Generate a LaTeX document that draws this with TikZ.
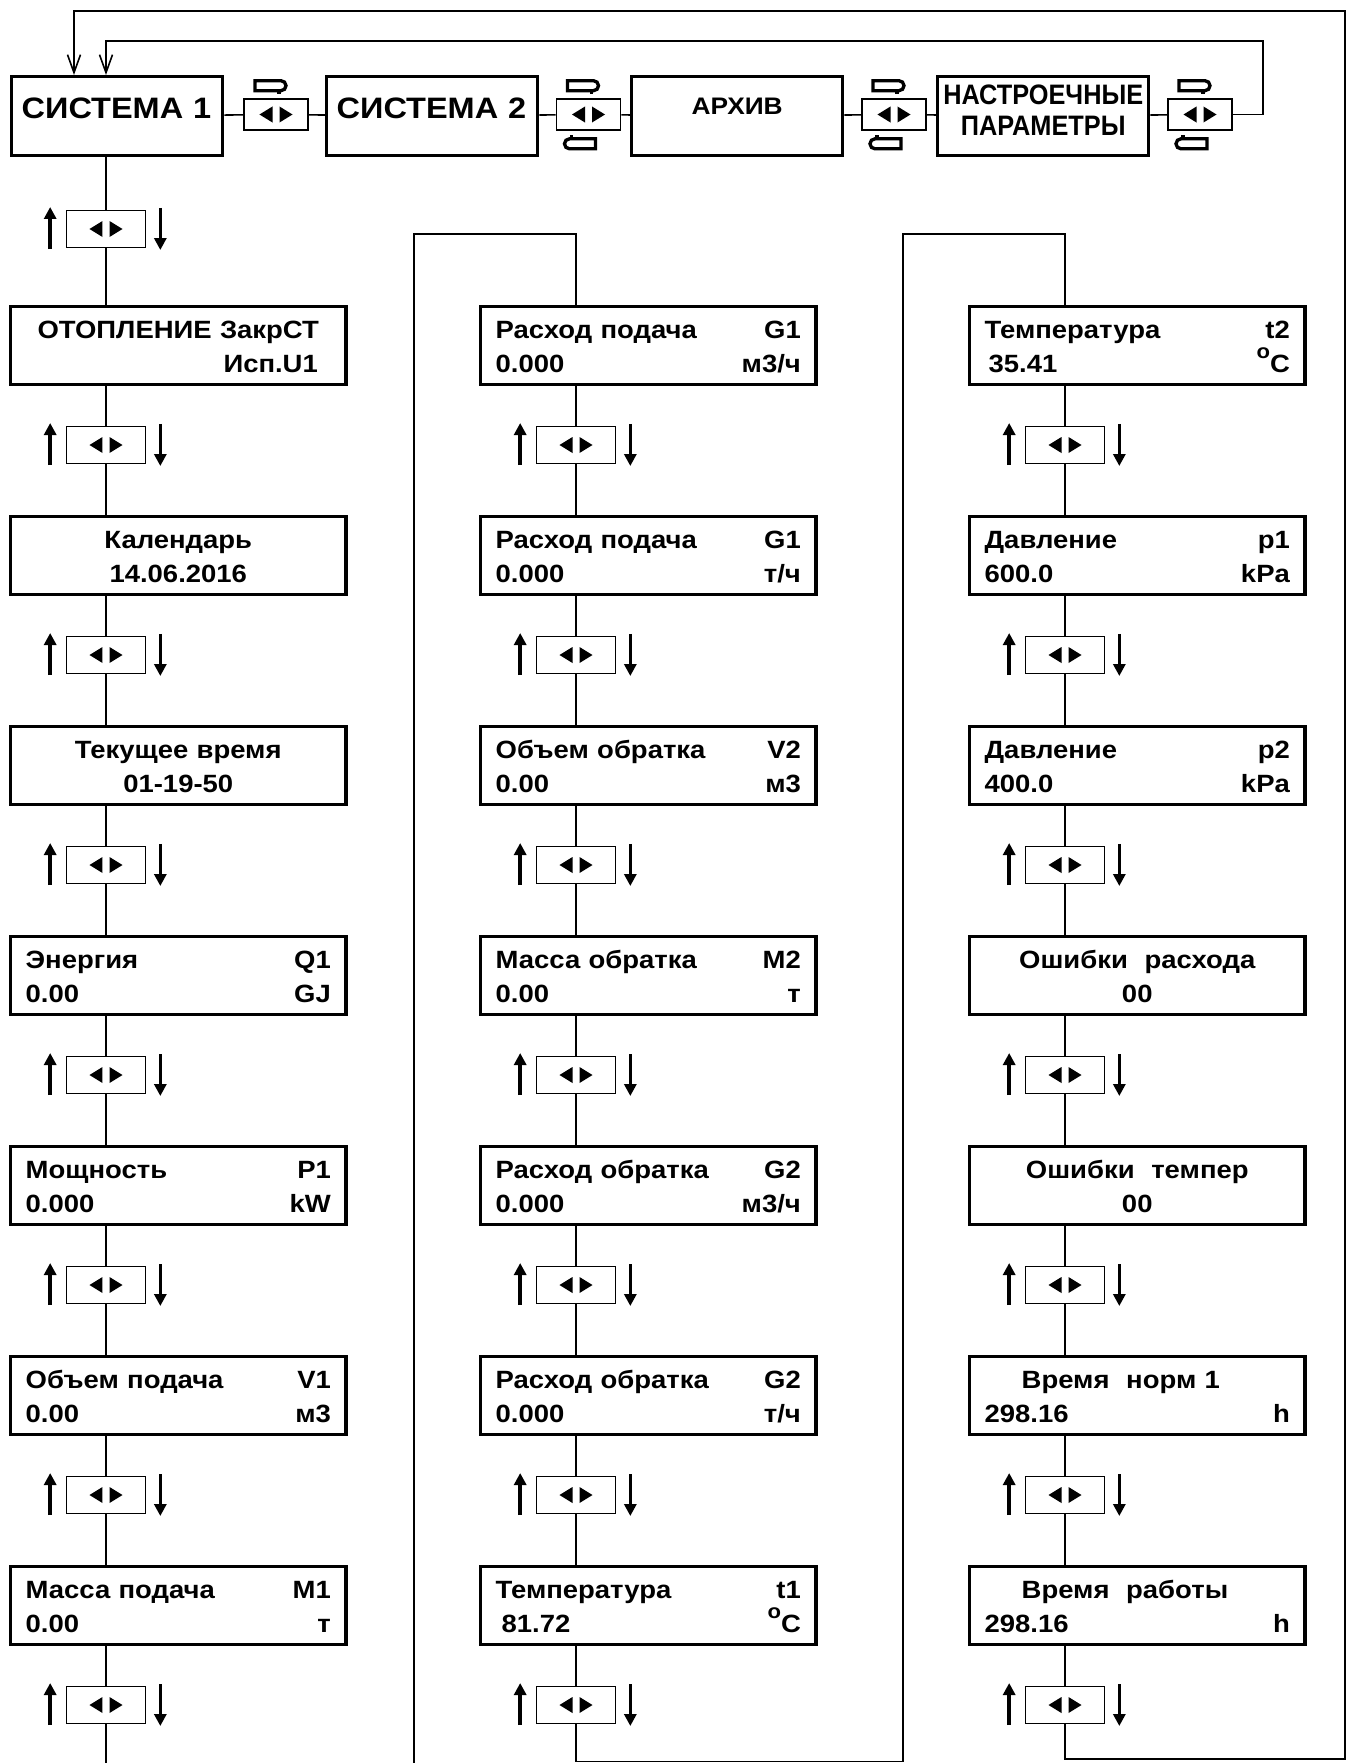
\documentclass[tikz,border=0pt]{standalone}
\usepackage{fontspec}
\usetikzlibrary{arrows.meta,calc}
\newfontfamily\lcd{Liberation Sans}[FakeStretch=1.1]
\newfontfamily\lcdnarrow{Liberation Sans}[FakeStretch=0.9]
\newcommand{\panelfont}{\lcd\bfseries\fontsize{7.1pt}{9.67pt}\selectfont}
\newcommand{\degC}{\raisebox{4pt}{\fontsize{5.7pt}{6pt}\selectfont o}C}
\newcommand{\ctr}[1]{\hspace*{\fill}#1\hspace*{\fill}\mbox{}}
\tikzset{panel/.style={draw,line width=0.95pt,anchor=north west,inner xsep=0.15cm,inner ysep=0pt,text width=3.05cm,text height=0.32cm,text depth=0.46cm,font=\panelfont},
tab/.style={draw,line width=0.95pt,anchor=north west,inner xsep=0.1cm,inner ysep=0pt,text width=1.91cm},
key/.style={draw,line width=0.45pt,fill=white,minimum width=0.79cm,minimum height=0.37cm,inner sep=0pt,
  path picture={\fill[black] ([xshift=-0.035cm]path picture bounding box.center) -- ++(0,0.08cm) -- ++(-0.13cm,-0.08cm) -- ++(0.13cm,-0.08cm) -- cycle;
    \fill[black] ([xshift=0.035cm]path picture bounding box.center) -- ++(0,0.08cm) -- ++(0.13cm,-0.08cm) -- ++(-0.13cm,-0.08cm) -- cycle;}},
topkey/.style={key,minimum width=0.64cm,minimum height=0.31cm},
wire/.style={line width=0.45pt},
back/.style={wire,-{Straight Barb[length=0.18cm,width=0.13cm]}},
updn/.style={line width=1pt,-{Triangle[length=0.12cm,width=0.12cm]}},
fwd/.pic={\draw[line width=0.95pt] (-0.15cm,0.05cm) -- (0.11cm,0.05cm) arc[start angle=90,end angle=-90,radius=0.05cm] -- (-0.15cm,-0.05cm) -- cycle;
  \draw[line width=0.95pt] (0.09cm,-0.05cm) -- (0.09cm,-0.085cm);}}

\begin{document}
\begin{tikzpicture}[x=0.01cm,y=-0.01cm]
\fill[white] (0,0) rectangle (1353,1763);
\useasboundingbox (0,0) rectangle (1353,1763);

% top row of menus
\node[tab,align=left,text height=0.42cm,text depth=0.37cm,font=\lcd\bfseries\fontsize{8.4pt}{10pt}\selectfont] (sys1) at (10,75) {СИСТЕМА 1};
\node[tab,align=left,text height=0.42cm,text depth=0.37cm,font=\lcd\bfseries\fontsize{8.4pt}{10pt}\selectfont] (sys2) at (325,75) {СИСТЕМА 2};
\node[tab,align=center,text height=0.38cm,text depth=0.41cm,font=\lcd\bfseries\fontsize{6.8pt}{8pt}\selectfont] (arch) at (630,75) {АРХИВ};
\node[tab,align=center,inner xsep=0.02cm,text width=2.07cm,text height=0.28cm,text depth=0.51cm,font=\lcdnarrow\bfseries\fontsize{8pt}{8.82pt}\selectfont] (setp) at (936,75) {НАСТРОЕЧНЫЕ\\ПАРАМЕТРЫ};
\node[topkey] (t1) at (276,114.5) {};
\node[topkey] (t2) at (588.5,114.5) {};
\node[topkey] (t3) at (894,114.5) {};
\node[topkey] (t4) at (1200,114.5) {};
\draw[wire] (sys1) -- (t1) -- (sys2) -- (t2) -- (arch) -- (t3) -- (setp) -- (t4);
\foreach \t in {t1,t2,t3,t4} \pic at ([xshift=-0.06cm,yshift=0.125cm]\t.north) {fwd};
\foreach \t in {t2,t3,t4} \pic[rotate=180] at ([xshift=-0.08cm,yshift=-0.13cm]\t.south) {fwd};

% column 1
\node[panel] (b10) at (9,305) {\ctr{ОТОПЛЕНИЕ ЗакрСТ}\\\hspace*{\fill}Исп.U1\hspace*{0.13cm}\mbox{}};
\node[panel] (b11) at (9,515) {\ctr{Календарь}\\\ctr{14.06.2016}};
\node[panel] (b12) at (9,725) {\ctr{Текущее время}\\\ctr{01-19-50}};
\node[panel] (b13) at (9,935) {Энергия\hfill Q1\\0.00\hfill GJ};
\node[panel] (b14) at (9,1145) {Мощность\hfill P1\\0.000\hfill kW};
\node[panel] (b15) at (9,1355) {Объем подача\hfill V1\\0.00\hfill м3};
\node[panel] (b16) at (9,1565) {Масса подача\hfill M1\\0.00\hfill т};

% column 2
\node[panel] (b20) at (479,305) {Расход подача\hfill G1\\0.000\hfill м3/ч};
\node[panel] (b21) at (479,515) {Расход подача\hfill G1\\0.000\hfill т/ч};
\node[panel] (b22) at (479,725) {Объем обратка\hfill V2\\0.00\hfill м3};
\node[panel] (b23) at (479,935) {Масса обратка\hfill M2\\0.00\hfill т};
\node[panel] (b24) at (479,1145) {Расход обратка\hfill G2\\0.000\hfill м3/ч};
\node[panel] (b25) at (479,1355) {Расход обратка\hfill G2\\0.000\hfill т/ч};
\node[panel] (b26) at (479,1565) {Температура\hfill t1\\\hspace*{0.06cm}81.72\hfill\degC};

% column 3
\node[panel] (b30) at (968,305) {Температура\hfill t2\\\hspace*{0.04cm}35.41\hfill\degC};
\node[panel] (b31) at (968,515) {Давление\hfill p1\\600.0\hfill kPa};
\node[panel] (b32) at (968,725) {Давление\hfill p2\\400.0\hfill kPa};
\node[panel] (b33) at (968,935) {\ctr{Ошибки\ \ расхода}\\\ctr{00}};
\node[panel] (b34) at (968,1145) {\ctr{Ошибки\ \ темпер}\\\ctr{00}};
\node[panel] (b35) at (968,1355) {\hspace*{0.37cm}Время\ \ норм 1\\298.16\hfill h};
\node[panel] (b36) at (968,1565) {\hspace*{0.37cm}Время\ \ работы\\298.16\hfill h};

% keys between the screens
\node[key] (k1t) at (106,229) {};
\foreach \c/\lft in {1/9,2/479,3/968}{
  \foreach \r in {0,...,6}{
    \node[key] (k\c\r) at (\lft+97,445+210*\r) {};
    \draw[wire] (b\c\r.south -| k\c\r) -- (k\c\r.north);
  }
  \foreach \r [count=\n from 1] in {0,...,5}
    \draw[wire] (k\c\r.south) -- (b\c\n.north -| k\c\r);
}
\foreach \k in {k1t,k10,k11,k12,k13,k14,k15,k16,k20,k21,k22,k23,k24,k25,k26,k30,k31,k32,k33,k34,k35,k36}{
  \draw[updn] ([xshift=-0.155cm,yshift=-0.2cm]\k.west) -- ++(0,0.42cm);
  \draw[updn] ([xshift=0.14cm,yshift=0.21cm]\k.east) -- ++(0,-0.42cm);
}
\draw[wire] (sys1.south -| k1t) -- (k1t.north);
\draw[wire] (k1t.south) -- (b10.north -| k1t);

% column links
\coordinate (c1) at (106,1763);
\coordinate (c2a) at (414,1763);
\coordinate (c2b) at (414,234);
\coordinate (c3a) at (903,1761.5);
\coordinate (c3b) at (903,234);
\draw[wire] (k16.south) -- (c1);
\draw[wire] (c2a) -- (c2b) -| (b20.north -| k20);
\draw[wire] (k26.south) |- (c3a) -- (c3b) -| (b30.north -| k30);

% return loops
\coordinate (ia) at (1263,41);
\coordinate (ob) at (1345,1759);
\coordinate (ot) at (74,11);
\draw[back] (t4) -| (ia) -| (sys1.north -| k1t);
\draw[back] (k36.south) |- (ob) |- (ot) -- (sys1.north -| ot);
\end{tikzpicture}
\end{document}
